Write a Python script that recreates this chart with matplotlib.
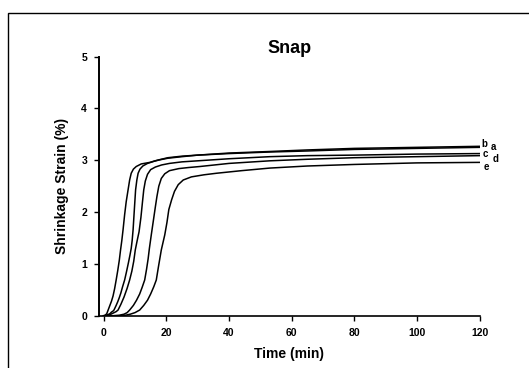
import numpy as np
import matplotlib.pyplot as plt
from matplotlib.patches import Rectangle

plt.rcParams['font.family'] = ['Liberation Sans', 'DejaVu Sans']

# values: time (min) and shrinkage strain (%)
t_a = [0, 0.5, 1, 1.5, 2, 2.5, 3, 3.5, 4, 4.5, 5, 5.4, 5.8, 6.2, 6.7, 7.2, 7.8, 8.3, 8.8, 9.5, 10.4, 12, 14.8, 17, 20.5, 25, 30, 40, 53, 65, 80, 100, 120]
s_a = [0, 0.01, 0.04, 0.12, 0.2, 0.28, 0.38, 0.52, 0.69, 0.87, 1.07, 1.27, 1.45, 1.66, 1.95, 2.2, 2.43, 2.62, 2.75, 2.83, 2.88, 2.93, 2.96, 3.0, 3.05, 3.08, 3.1, 3.13, 3.16, 3.18, 3.21, 3.23, 3.25]
t_b = [0, 1, 2, 2.5, 3, 3.3, 4, 4.5, 5, 5.5, 6, 6.7, 7.3, 7.9, 8.4, 8.8, 9.1, 9.4, 9.8, 10.2, 10.6, 11, 11.6, 12.5, 14, 16, 18, 20.5, 25, 30, 40, 53, 65, 80, 100, 120]
s_b = [0, 0.01, 0.04, 0.07, 0.09, 0.11, 0.2, 0.27, 0.35, 0.44, 0.55, 0.69, 0.85, 1.02, 1.17, 1.3, 1.45, 1.66, 2.05, 2.43, 2.62, 2.75, 2.83, 2.89, 2.94, 2.98, 3.01, 3.04, 3.07, 3.1, 3.14, 3.17, 3.2, 3.23, 3.25, 3.27]
t_c = [0, 1, 2, 3, 4, 4.6, 5.5, 6.5, 7.5, 8.3, 9, 9.6, 10.1, 10.7, 11.3, 11.9, 12.4, 12.8, 13.3, 14, 15, 16.5, 18.5, 21, 25, 30, 40, 53, 65, 80, 100, 120]
s_c = [0, 0, 0.02, 0.05, 0.08, 0.11, 0.22, 0.36, 0.53, 0.69, 0.86, 1.05, 1.27, 1.45, 1.62, 1.9, 2.2, 2.43, 2.6, 2.73, 2.82, 2.87, 2.91, 2.94, 2.97, 2.99, 3.03, 3.07, 3.09, 3.1, 3.12, 3.13]
t_d = [0, 3, 5, 6.5, 7.5, 8.3, 9.5, 10.5, 11.5, 12.3, 13.1, 13.7, 14.2, 14.6, 15.2, 15.9, 16.5, 17, 17.6, 18.4, 19.5, 21, 24, 27, 30.7, 40, 53, 65, 80, 100, 120]
s_d = [0, 0, 0.01, 0.03, 0.06, 0.11, 0.2, 0.3, 0.42, 0.55, 0.69, 0.9, 1.1, 1.3, 1.56, 1.85, 2.1, 2.3, 2.5, 2.65, 2.74, 2.8, 2.84, 2.86, 2.88, 2.94, 2.99, 3.02, 3.05, 3.07, 3.09]
t_e = [0, 5, 7, 8.5, 10, 11.5, 12.8, 14, 15, 16, 16.8, 17.5, 18.4, 19.5, 20.2, 20.8, 21.7, 22.6, 23.8, 25.4, 28, 32, 36, 44, 53, 65, 80, 100, 120]
s_e = [0, 0, 0.01, 0.03, 0.06, 0.11, 0.2, 0.3, 0.42, 0.56, 0.69, 0.95, 1.27, 1.56, 1.8, 2.05, 2.24, 2.4, 2.53, 2.62, 2.68, 2.72, 2.75, 2.8, 2.85, 2.89, 2.92, 2.95, 2.96]

curve_t = [t_a, t_b, t_c, t_d, t_e]
curve_s = [s_a, s_b, s_c, s_d, s_e]

end_labels = ["b", "a", "c", "d", "e"]
label_x = [120.6, 123.4, 120.9, 124.0, 121.1]
label_y = [3.32, 3.25, 3.13, 3.03, 2.87]

fig = plt.figure(figsize=(5.29, 3.68), dpi=100)
ax = fig.add_axes([0.187, 0.142, 0.72, 0.704])

for tt, ss in zip(curve_t, curve_s):
    ax.plot(tt, ss, color='black', lw=1.1, solid_joinstyle='round')

for lab, lx, ly in zip(end_labels, label_x, label_y):
    ax.text(lx, ly, lab, fontsize=7, fontweight='bold', ha='left', va='center', clip_on=False)

ax.set_xlim(-1.5, 120)
ax.set_ylim(0, 5)
ax.set_xticks([0, 20, 40, 60, 80, 100, 120])
ax.set_yticks([0, 1, 2, 3, 4, 5])
ax.spines['top'].set_visible(False)
ax.spines['right'].set_visible(False)
ax.spines['left'].set_linewidth(1.4)
ax.spines['bottom'].set_linewidth(1.2)
ax.tick_params(axis='both', direction='out', length=3.5, width=1, labelsize=7.5, pad=5)
for lbl in ax.get_xticklabels() + ax.get_yticklabels():
    lbl.set_fontweight('bold')

ax.set_title("Snap", fontsize=13, fontweight='bold', pad=3)
ax.set_xlabel("Time (min)", fontsize=10, fontweight='bold', labelpad=7)
ax.set_ylabel("Shrinkage Strain (%)", fontsize=10, fontweight='bold', labelpad=9)

# outer frame of the scanned figure
fig.patches.append(Rectangle((8 / 529, -0.1), 1.2, 1 - 13 / 368 + 0.1, transform=fig.transFigure,
                             fill=False, edgecolor='black', lw=1.0))

fig.savefig("out.png", dpi=100)
